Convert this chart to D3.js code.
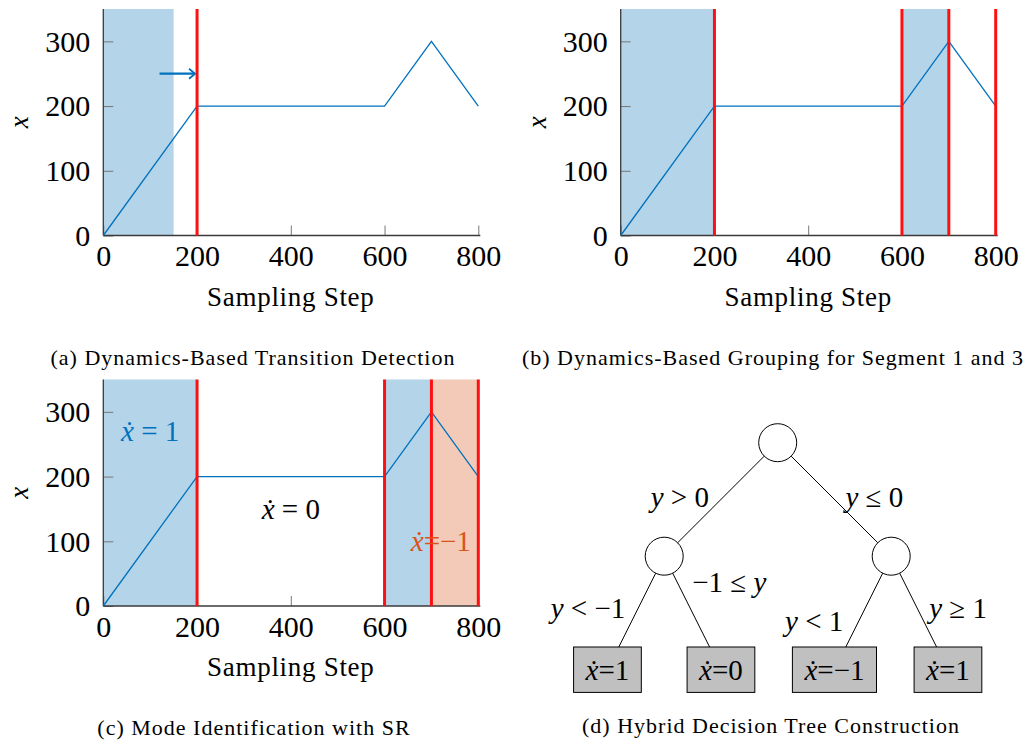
<!DOCTYPE html>
<html>
<head>
<meta charset="utf-8">
<script src="https://cdn.jsdelivr.net/npm/d3@7"></script>
<style>
  body { margin: 0; background: #fff; }
  svg { display: block; }
  svg text { font-family: "Liberation Serif", "DejaVu Serif", "Times New Roman", Times, serif; fill: #000; }
</style>
</head>
<body>
<div id="chart"></div>
<script>
// trajectory x over the sampling steps
const steps = [0, 200, 600, 700, 800];
const xValues = [0, 200, 200, 300, 200];
const xTickValues = [0, 200, 400, 600, 800];
const yTickValues = [0, 100, 200, 300];

// (a) transition detection
const detectShade = [[0, 150]];
const detectCuts = [200];
const detectArrow = [[120, 250], [200, 250]];

// (b) grouping
const groupShade = [[0, 200], [600, 700]];
const groupCuts = [200, 600, 700, 800];

// (c) mode identification
const modeShadeBlue = [[0, 200], [600, 700]];
const modeShadeOrange = [[700, 800]];
const modeCuts = [200, 600, 700, 800];
const modeLabels = ["ẋ = 1", "ẋ = 0", "ẋ=−1"];
const modeLabelX = [100, 400, 720];
const modeLabelY = [270, 150, 100];

// (d) decision tree
const nodeIds = ["root", "A", "B", "A1", "A2", "B1", "B2"];
const nodeParents = [null, "root", "root", "A", "A", "B", "B"];
const leafLabels = ["", "", "", "ẋ=1", "ẋ=0", "ẋ=−1", "ẋ=1"];
const edgeLabels = ["", "y > 0", "y ≤ 0", "y < −1", "−1 ≤ y", "y < 1", "y ≥ 1"];

const captions = [
  "(a) Dynamics-Based Transition Detection",
  "(b) Dynamics-Based Grouping for Segment 1 and 3",
  "(c) Mode Identification with SR",
  "(d) Hybrid Decision Tree Construction"
];

const W = 1028, H = 747;
const blue = "#0072bd", orange = "#d95319", red = "#ff1010";
const shadeBlue = "#b4d4ea", shadeOrange = "#f3cab8";
const axisColor = "#3a3a3a";
const serif = "'Liberation Serif', 'DejaVu Serif', serif";

const svg = d3.select("#chart").append("svg")
    .attr("width", W)
    .attr("height", H)
    .attr("font-family", serif);

// write a math string: letters italic, everything else upright
function mathText(t, s) {
  const parts = s.match(/[a-zẋ]+|[^a-zẋ]+/g);
  parts.forEach(p => {
    t.append("tspan")
      .attr("font-style", /[a-zẋ]/.test(p) ? "italic" : "normal")
      .text(p);
  });
  return t;
}

function drawPanel(left, top, opts) {
  const w = 375, h = 226.5;
  const x = d3.scaleLinear().domain([0, 800]).range([left, left + w]);
  const y = d3.scaleLinear().domain([0, 350]).range([top + h, top]);
  const g = svg.append("g");

  g.selectAll(".shadeB").data(opts.blueShade || []).enter().append("rect")
      .attr("x", d => x(d[0]))
      .attr("width", d => x(d[1]) - x(d[0]))
      .attr("y", y(350))
      .attr("height", y(0) - y(350))
      .attr("fill", shadeBlue);

  g.selectAll(".shadeO").data(opts.orangeShade || []).enter().append("rect")
      .attr("x", d => x(d[0]))
      .attr("width", d => x(d[1]) - x(d[0]))
      .attr("y", y(350))
      .attr("height", y(0) - y(350))
      .attr("fill", shadeOrange);

  // axes (left + bottom only, ticks pointing inwards)
  const xAxis = d3.axisBottom(x).tickValues(xTickValues).tickSize(-10).tickPadding(11).tickFormat(d3.format("d"));
  const yAxis = d3.axisLeft(y).tickValues(yTickValues).tickSize(-10).tickPadding(13).tickFormat(d3.format("d"));

  const gx = g.append("g").attr("transform", `translate(0,${y(0)})`).call(xAxis);
  const gy = g.append("g").attr("transform", `translate(${x(0)},0)`).call(yAxis);
  [gx, gy].forEach(a => {
    a.attr("font-family", serif);
    a.select(".domain").remove();
    a.selectAll(".tick line").attr("stroke", "#777").attr("stroke-width", 1);
    a.selectAll(".tick text")
      .attr("font-size", 30)
      .attr("fill", "#000");
  });
  gx.selectAll(".tick text").attr("dy", "0.66em");
  gy.selectAll(".tick text").attr("dy", "0.33em");

  g.append("line")
      .attr("x1", x(0)).attr("x2", x(800) + 2)
      .attr("y1", y(0)).attr("y2", y(0))
      .attr("stroke", axisColor).attr("stroke-width", 1.3);
  g.append("line")
      .attr("x1", x(0)).attr("x2", x(0))
      .attr("y1", y(0)).attr("y2", y(350))
      .attr("stroke", axisColor).attr("stroke-width", 1.3);

  // trajectory
  const line = d3.line().x(d => x(d[0])).y(d => y(d[1]));
  g.append("path")
      .datum(d3.zip(steps, xValues))
      .attr("d", line)
      .attr("fill", "none")
      .attr("stroke", blue)
      .attr("stroke-width", 1.3);

  // cut lines
  g.selectAll(".cut").data(opts.cuts).enter().append("line")
      .attr("x1", d => x(d)).attr("x2", d => x(d))
      .attr("y1", y(0)).attr("y2", y(350))
      .attr("stroke", red)
      .attr("stroke-width", 3);

  // axis titles
  g.append("text")
      .attr("transform", `translate(${left - 86},${(y(0) + y(350)) / 2}) rotate(-90)`)
      .attr("text-anchor", "middle")
      .attr("dy", 11)
      .attr("font-size", 27)
      .attr("font-style", "italic")
      .text("x");
  g.append("text")
      .attr("x", x(400))
      .attr("y", y(0) + 70)
      .attr("text-anchor", "middle")
      .attr("font-size", 27)
      .attr("letter-spacing", 0.7)
      .text("Sampling Step");

  return {g, x, y};
}

// (a)
const pa = drawPanel(103.3, 9, {blueShade: detectShade, cuts: detectCuts});
svg.append("defs").append("marker")
    .attr("id", "arrow")
    .attr("viewBox", "-8 -6 10 12")
    .attr("markerWidth", 10).attr("markerHeight", 12)
    .attr("markerUnits", "userSpaceOnUse")
    .attr("orient", "auto")
  .append("path")
    .attr("d", "M-6,-5 L0,0 L-6,5")
    .attr("fill", "none")
    .attr("stroke", blue)
    .attr("stroke-width", 1.8);
pa.g.append("line")
    .attr("x1", pa.x(detectArrow[0][0])).attr("y1", pa.y(detectArrow[0][1]))
    .attr("x2", pa.x(detectArrow[1][0]) - 2).attr("y2", pa.y(detectArrow[1][1]))
    .attr("stroke", blue)
    .attr("stroke-width", 2.2)
    .attr("marker-end", "url(#arrow)");

// (b)
drawPanel(620.7, 9, {blueShade: groupShade, cuts: groupCuts});

// (c)
const pc = drawPanel(103.3, 379.5, {blueShade: modeShadeBlue, orangeShade: modeShadeOrange, cuts: modeCuts});
const modeColors = [blue, "#000", orange];
modeLabels.forEach((s, i) => {
  const t = pc.g.append("text")
      .attr("x", pc.x(modeLabelX[i]))
      .attr("y", pc.y(modeLabelY[i]))
      .attr("dy", "0.35em")
      .attr("text-anchor", "middle")
      .attr("font-size", 29)
      .style("fill", modeColors[i]);
  mathText(t, s);
});

// (d) tree
const rows = nodeIds.map((id, i) => ({id, parent: nodeParents[i], leaf: leafLabels[i], edge: edgeLabels[i]}));
const root = d3.stratify().id(d => d.id).parentId(d => d.parent)(rows);
d3.tree().nodeSize([113.5, 113.5]).separation(() => 1)(root);

const tg = svg.append("g").attr("transform", "translate(777.7,442.7)");
const R = 19, boxH = 45.4, boxPad = 12;

// leaves first so we know box sizes
root.descendants().forEach(n => {
  if (n.children) { n.shape = {type: "circle"}; return; }
  const t = tg.append("text")
      .attr("x", n.x).attr("y", n.y)
      .attr("dy", "0.35em")
      .attr("text-anchor", "middle")
      .attr("font-size", 29);
  mathText(t, n.data.leaf);
  const tw = t.node().getComputedTextLength();
  n.shape = {type: "box", w: tw + 2 * boxPad, h: boxH};
  tg.insert("rect", "text")
      .attr("x", n.x - n.shape.w / 2).attr("y", n.y - boxH / 2)
      .attr("width", n.shape.w).attr("height", boxH)
      .attr("fill", "#c0c0c0")
      .attr("stroke", "#000")
      .attr("stroke-width", 1);
});

tg.selectAll("circle").data(root.descendants().filter(n => n.children)).enter().append("circle")
    .attr("cx", d => d.x).attr("cy", d => d.y).attr("r", R)
    .attr("fill", "#fff").attr("stroke", "#000").attr("stroke-width", 1);

function border(n, dx, dy) {
  // distance from centre to the border along (dx,dy), unit vector
  if (n.shape.type === "circle") return R;
  return Math.min((n.shape.w / 2) / Math.abs(dx || 1e-9), (n.shape.h / 2) / Math.abs(dy || 1e-9));
}

const labelSide = {A: "left", B: "right", A1: "left", A2: "aboveright", B1: "belowleft", B2: "right"};
root.links().forEach(l => {
  const s = l.source, t = l.target;
  const len = Math.hypot(t.x - s.x, t.y - s.y);
  const ux = (t.x - s.x) / len, uy = (t.y - s.y) / len;
  const a = border(s, ux, uy), b = border(t, ux, uy);
  const p1 = [s.x + ux * a, s.y + uy * a], p2 = [t.x - ux * b, t.y - uy * b];
  tg.append("line")
      .attr("x1", p1[0]).attr("y1", p1[1])
      .attr("x2", p2[0]).attr("y2", p2[1])
      .attr("stroke", "#000").attr("stroke-width", 1);

  const mx = (p1[0] + p2[0]) / 2, my = (p1[1] + p2[1]) / 2;
  const side = labelSide[t.id];
  let lx = mx, ly = my, anchor = "start";
  if (side === "left") { lx = mx - 12; ly = my + 8; anchor = "end"; }
  if (side === "right") { lx = mx + 11; ly = my + 8; }
  if (side === "aboveright") { lx = mx + 1; ly = my - 18; }
  if (side === "belowleft") { lx = mx - 21; ly = my + 21; anchor = "end"; }
  const lt = tg.append("text")
      .attr("x", lx).attr("y", ly)
      .attr("text-anchor", anchor)
      .attr("font-size", 29);
  mathText(lt, t.data.edge);
});

// captions
const capPos = [[253, 365], [773, 365], [254, 735], [771, 733]];
svg.selectAll(".caption").data(captions).enter().append("text")
    .attr("class", "caption")
    .attr("x", (d, i) => capPos[i][0])
    .attr("y", (d, i) => capPos[i][1])
    .attr("text-anchor", "middle")
    .attr("font-size", 22)
    .attr("letter-spacing", 1)
    .text(d => d);
</script>
</body>
</html>
